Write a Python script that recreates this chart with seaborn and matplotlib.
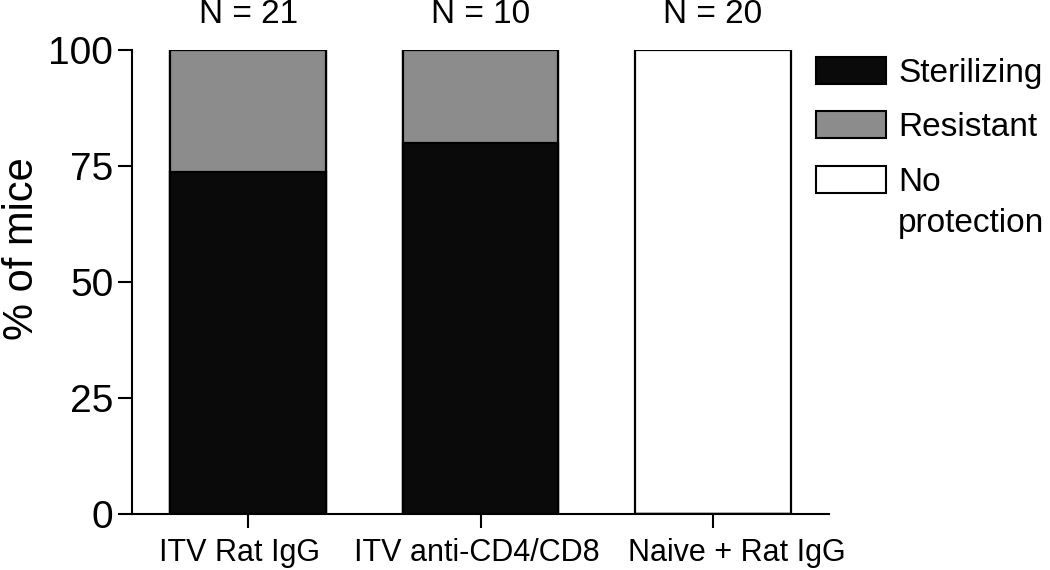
import matplotlib
matplotlib.use("Agg")
import matplotlib.pyplot as plt
import matplotlib.transforms as mtransforms
from matplotlib.patches import Patch
import numpy as np
import pandas as pd
import seaborn as sns

# ── Data ────────────────────────────────────────────────
groups = ["ITV Rat IgG", "ITV anti-CD4/CD8", "Naive + Rat IgG"]
n_mice = [21, 10, 20]
sterilizing = [73.7, 80.0, 0.0]
resistant = [26.3, 20.0, 0.0]
no_protection = [0.0, 0.0, 100.0]

outcomes = ["Sterilizing", "Resistant", "No"]
colors = ["#0a0a0a", "#8c8c8c", "#ffffff"]

df = pd.DataFrame({"group": groups, "Sterilizing": sterilizing,
                   "Resistant": resistant, "No protection": no_protection})
df["cum1"] = df["Sterilizing"]
df["cum2"] = df["cum1"] + df["Resistant"]
df["cum3"] = df["cum2"] + df["No protection"]

sns.set_style("ticks")
plt.rcParams["font.family"] = ["Liberation Sans", "DejaVu Sans"]
plt.rcParams["text.color"] = "black"
plt.rcParams["axes.labelcolor"] = "black"
plt.rcParams["xtick.color"] = "black"
plt.rcParams["ytick.color"] = "black"
plt.rcParams["axes.edgecolor"] = "black"

fig = plt.figure(figsize=(10.5, 5.7), dpi=100)
ax = fig.add_axes([132 / 1050, 1 - 514 / 570, 697 / 1050, 464 / 570])

# stacked bars: draw cumulative totals from the top layer down
for col, c in zip(["cum3", "cum2", "cum1"], colors[::-1]):
    sns.barplot(data=df, x="group", y=col, color=c, width=0.67,
                edgecolor="black", linewidth=1.6, saturation=1, ax=ax, errorbar=None)

ax.set_xlim(-0.5, 2.5)
ax.set_ylim(0, 100)
ax.set_yticks([0, 25, 50, 75, 100])
ax.set_xlabel("")
ax.set_ylabel("% of mice", fontsize=30)
ax.yaxis.set_label_coords(-0.129, 0.571)
ax.tick_params(axis="y", labelsize=28, length=10, width=1.5, pad=3.5)
ax.tick_params(axis="x", labelsize=22, length=10, width=1.5, pad=7)
for s in ["left", "bottom"]:
    ax.spines[s].set_linewidth(1.5)
sns.despine(ax=ax)

# nudge x labels apart so they don't collide (as in the original figure)
for lab, dx in zip(ax.get_xticklabels(), [-9, -4, 24]):
    lab.set_transform(lab.get_transform() + mtransforms.ScaledTranslation(dx / 100, 0, fig.dpi_scale_trans))

for i, n in enumerate(n_mice):
    ax.text(i, 107.65, f"N = {n}", ha="center", va="center", fontsize=24, clip_on=False)

handles = [Patch(facecolor=c, edgecolor="black", linewidth=1.5) for c in colors]
leg = ax.legend(handles, outcomes, loc="upper left",
                bbox_to_anchor=(816 / 1050, 1 - 56.5 / 570), bbox_transform=fig.transFigure,
                frameon=False, fontsize=24, handlelength=2.1, handleheight=0.87,
                handletextpad=0.36, labelspacing=0.68, borderpad=0, borderaxespad=0)
fig.text(898 / 1050, 1 - 232 / 570, "protection", ha="left", va="baseline", fontsize=24)

fig.savefig("out.png", dpi=100)
